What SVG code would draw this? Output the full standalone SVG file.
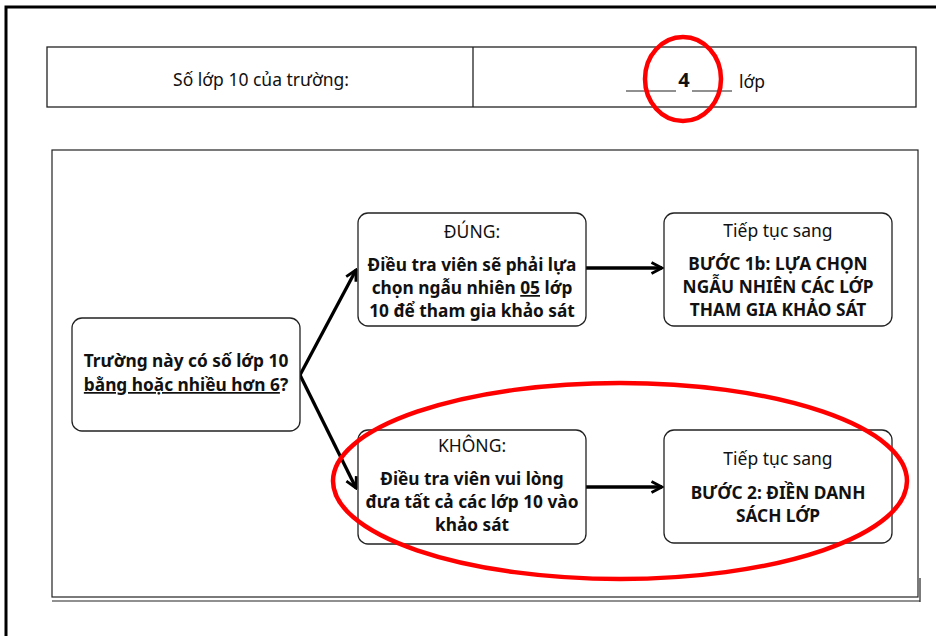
<svg xmlns="http://www.w3.org/2000/svg" width="936" height="636" viewBox="0 0 936 636">
<defs>
<style>
.t{font-family:"Noto Sans","DejaVu Sans",sans-serif;fill:#111;text-anchor:middle}
.n{font-size:17.5px}
.b{font-size:17.3px;font-weight:bold}
.box{fill:#fff;stroke:#222;stroke-width:1.3}
.cn{stroke:#000;stroke-width:3.3;fill:none}
.red{fill:none;stroke:#f00;stroke-width:4.5}
</style>
<marker id="ah" viewBox="0 0 14 14" refX="12" refY="7" markerWidth="14" markerHeight="14" markerUnits="userSpaceOnUse" orient="auto">
<path d="M1.5,1.5 L12,7 L1.5,12.5" fill="none" stroke="#000" stroke-width="2.8"/>
</marker>
</defs>
<rect width="936" height="636" fill="#fff"/>
<g id="frame">
<path d="M6,636 V7 H936" fill="none" stroke="#000" stroke-width="3"/>
</g>
<g id="table">
<rect x="47" y="47" width="869" height="60" fill="#fff" stroke="#222" stroke-width="1.3"/>
<line x1="473" y1="47" x2="473" y2="107" stroke="#222" stroke-width="1.3"/>
<text class="t n" x="261" y="86">Số lớp 10 của trường:</text>
<line x1="626" y1="91" x2="676" y2="91" stroke="#222" stroke-width="1.2"/>
<line x1="692" y1="91" x2="732" y2="91" stroke="#222" stroke-width="1.2"/>
<text class="t" x="684" y="87" style="font-size:20px;font-weight:bold">4</text>
<text class="t n" x="752" y="88">lớp</text>
</g>
<g id="panel">
<rect x="52" y="150" width="866" height="447" fill="none" stroke="#222" stroke-width="1.2"/>
<line x1="52" y1="601" x2="920" y2="601" stroke="#222" stroke-width="1.2"/>
<line x1="920" y1="578" x2="920" y2="602" stroke="#222" stroke-width="1.2"/>
</g>
<g id="connectors">
<path class="cn" d="M300,375 L356,270" marker-end="url(#ah)"/>
<path class="cn" d="M300,375 L356,488" marker-end="url(#ah)"/>
<path class="cn" d="M586,268 L662,268" marker-end="url(#ah)"/>
<path class="cn" d="M586,487 L662,487" marker-end="url(#ah)"/>
</g>
<g id="q">
<rect class="box" x="72" y="318" width="228" height="113" rx="10"/>
<text class="t b" x="186" y="367">Trường này có số lớp 10</text>
<text class="t b" x="186" y="391"><tspan text-decoration="underline">bằng hoặc nhiều hơn 6</tspan>?</text>
</g>
<g id="yes">
<rect class="box" x="358" y="213" width="228" height="113" rx="10"/>
<text class="t n" x="472" y="238">ĐÚNG:</text>
<text class="t b" x="472" y="271">Điều tra viên sẽ phải lựa</text>
<text class="t b" x="472" y="294">chọn ngẫu nhiên <tspan text-decoration="underline">05</tspan> lớp</text>
<text class="t b" x="472" y="317">10 để tham gia khảo sát</text>
</g>
<g id="step1b">
<rect class="box" x="664" y="213" width="228" height="113" rx="10"/>
<text class="t n" x="778" y="237">Tiếp tục sang</text>
<text class="t b" x="778" y="270">BƯỚC 1b: LỰA CHỌN</text>
<text class="t b" x="778" y="293">NGẪU NHIÊN CÁC LỚP</text>
<text class="t b" x="778" y="316">THAM GIA KHẢO SÁT</text>
</g>
<g id="no">
<rect class="box" x="358" y="430" width="228" height="114" rx="10"/>
<text class="t n" x="472" y="452">KHÔNG:</text>
<text class="t b" x="472" y="485">Điều tra viên vui lòng</text>
<text class="t b" x="472" y="508">đưa tất cả các lớp 10 vào</text>
<text class="t b" x="472" y="531">khảo sát</text>
</g>
<g id="step2">
<rect class="box" x="664" y="430" width="228" height="113" rx="10"/>
<text class="t n" x="778" y="465">Tiếp tục sang</text>
<text class="t b" x="778" y="499">BƯỚC 2: ĐIỀN DANH</text>
<text class="t b" x="778" y="522">SÁCH LỚP</text>
</g>
<g id="highlights">
<ellipse class="red" cx="683" cy="79" rx="38" ry="42"/>
<ellipse class="red" cx="620" cy="481" rx="287" ry="98"/>
</g>
</svg>
